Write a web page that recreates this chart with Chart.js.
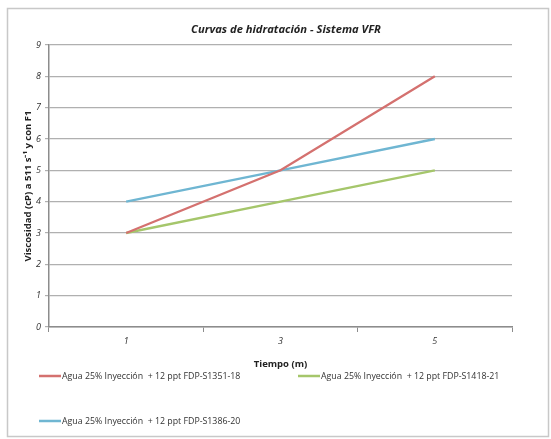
<!DOCTYPE html>
<html>
<head>
<meta charset="utf-8">
<script src="https://cdn.jsdelivr.net/npm/chart.js@4/dist/chart.umd.min.js"></script>
<style>
  html, body { margin: 0; padding: 0; background: #ffffff; }
  #wrap { width: 551px; height: 439px; position: relative; }
</style>
</head>
<body>
<div id="wrap"><canvas id="c" width="551" height="439"></canvas></div>
<script>
// Tiempo (m) categories
const tiempos = ['1', '3', '5'];

// Viscosity readings (cP) for each sample
const viscS1351 = [3, 5, 8];
const viscS1418 = [3, 4, 5];
const viscS1386 = [4, 5, 6];

const seriesLabels = [
  'Agua 25% Inyección  + 12 ppt FDP-S1351-18',
  'Agua 25% Inyección  + 12 ppt FDP-S1418-21',
  'Agua 25% Inyección  + 12 ppt FDP-S1386-20'
];
const seriesColors = ['#d4716f', '#a5c66b', '#6fb6d2'];

const yTicks = [0, 1, 2, 3, 4, 5, 6, 7, 8, 9];

const chartTitle = 'Curvas de hidratación - Sistema VFR';
const xTitle = 'Tiempo (m)';
const yTitle = 'Viscosidad (cP) a 511 s\u207B\u00B9 y con F1';

// Frame, title and the two-column legend below the plot
const decorations = {
  id: 'decorations',
  beforeDraw(chart) {
    const ctx = chart.ctx;
    ctx.save();
    ctx.fillStyle = '#ffffff';
    ctx.fillRect(0, 0, chart.width, chart.height);
    ctx.strokeStyle = '#c8c8c8';
    ctx.lineWidth = 1.5;
    ctx.strokeRect(7.5, 8.5, 541, 428);
    ctx.restore();
  },
  afterDraw(chart) {
    const ctx = chart.ctx;
    ctx.save();
    ctx.fillStyle = '#222222';
    ctx.font = 'italic bold 11.2px "Open Sans", sans-serif';
    ctx.textAlign = 'center';
    ctx.textBaseline = 'middle';
    ctx.fillText(chartTitle, 286, 30);

    const slots = [
      { x: 39, y: 376 },
      { x: 298, y: 376 },
      { x: 39, y: 421 }
    ];
    ctx.font = '8.8px "Open Sans", sans-serif';
    ctx.textAlign = 'left';
    chart.data.datasets.forEach((ds, i) => {
      const s = slots[i];
      ctx.strokeStyle = ds.borderColor;
      ctx.lineWidth = 2.5;
      ctx.beginPath();
      ctx.moveTo(s.x, s.y);
      ctx.lineTo(s.x + 22, s.y);
      ctx.stroke();
      ctx.fillStyle = '#333333';
      ctx.fillText(ds.label, s.x + 23, s.y);
    });
    ctx.restore();
  }
};

const makeSet = (i, data) => ({
  label: seriesLabels[i],
  data: data,
  borderColor: seriesColors[i],
  backgroundColor: seriesColors[i],
  borderWidth: 2.3,
  pointRadius: 0,
  pointHoverRadius: 0,
  tension: 0,
  fill: false
});

new Chart(document.getElementById('c'), {
  type: 'line',
  data: {
    labels: tiempos,
    datasets: [
      makeSet(0, viscS1351),
      makeSet(1, viscS1418),
      makeSet(2, viscS1386)
    ]
  },
  options: {
    responsive: false,
    animation: false,
    devicePixelRatio: 1,
    layout: { padding: { top: 45, right: 39, bottom: 67, left: 19 } },
    plugins: {
      legend: { display: false },
      title: { display: false },
      tooltip: { enabled: false }
    },
    scales: {
      x: {
        offset: true,
        afterFit: s => { s.height = 45; },
        grid: {
          offset: true,
          drawOnChartArea: false,
          drawTicks: true,
          tickLength: 5,
          color: '#8c8c8c'
        },
        border: { color: '#8c8c8c', width: 1.5 },
        ticks: {
          color: '#333333',
          padding: 4,
          font: { family: '"Open Sans", sans-serif', size: 9, style: 'italic' }
        },
        title: {
          display: true,
          text: xTitle,
          color: '#222222',
          padding: { top: 0, bottom: 2 },
          font: { family: '"Open Sans", sans-serif', size: 9.5, weight: 'bold' }
        }
      },
      y: {
        min: 0,
        max: 9,
        afterFit: s => { s.width = 30; },
        afterBuildTicks: s => { s.ticks = yTicks.map(v => ({ value: v })); },
        grid: {
          color: '#b0b0b0',
          lineWidth: 1.2,
          tickLength: 4,
          drawTicks: true
        },
        border: { color: '#8c8c8c', width: 1.5 },
        ticks: {
          color: '#333333',
          padding: 4,
          font: { family: '"Open Sans", sans-serif', size: 9, style: 'italic' }
        },
        title: {
          display: true,
          text: yTitle,
          color: '#222222',
          padding: { top: 4, bottom: 0 },
          font: { family: '"Open Sans", sans-serif', size: 9.5, weight: 'bold' }
        }
      }
    }
  },
  plugins: [decorations]
});
</script>
</body>
</html>
